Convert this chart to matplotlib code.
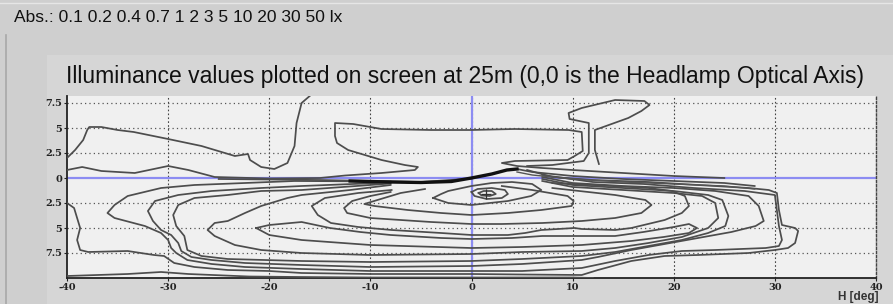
import matplotlib.pyplot as plt

# isolux levels shown in the header
levels_text = "Abs.: 0.1 0.2 0.4 0.7 1 2 3 5 10 20 30 50 lx"
title_text = "Illuminance values plotted on screen at 25m (0,0 is the Headlamp Optical Axis)"

x_ticks = [-40, -30, -20, -10, 0, 10, 20, 30, 40]
x_tick_labels = ["-40", "-30", "-20", "-10", "0", "10", "20", "30", "40"]
y_ticks = [7.5, 5, 2.5, 0, -2.5, -5, -7.5]
y_tick_labels = ["7.5", "5", "2.5", "0", "2.5", "5", "7.5"]

# contour lines, (H deg, V deg)
up_left = [(-40, 2.0), (-39.2, 2.8), (-38.4, 3.8), (-38, 4.8), (-37.8, 5.1), (-36.6, 5.1),
           (-35, 4.8), (-33.4, 4.6), (-30, 3.9), (-26.7, 3.2), (-23.4, 2.2), (-22.1, 2.4),
           (-21.9, 1.8), (-20.8, 1.1), (-19.5, 0.9), (-18.2, 1.5), (-17.5, 3.2), (-17.3, 5.5),
           (-16.8, 7.5), (-16.0, 8.2)]
up_box = [(-40, 0.8), (-38.5, 1.1), (-36.6, 0.7), (-33.3, 0.5), (-30, 1.2), (-28, 0.8),
          (-25.4, 0.1), (-20, -0.05), (-15, 0.0), (-12.5, 0.25), (-8.9, 0.5), (-5.6, 0.8),
          (-5.3, 1.1), (-6.6, 1.3), (-8.9, 1.8), (-12.2, 2.8), (-13.3, 3.5), (-13.5, 4.2),
          (-13.5, 5.5), (-11.7, 5.4), (-8.9, 4.9), (-4, 4.8), (0, 4.8), (4.3, 4.9), (9.6, 4.8),
          (10.9, 4.6), (11, 2.7), (10.2, 2.2), (9.5, 1.8), (4.3, 1.7), (3, 1.5), (4.5, 1.2),
          (7, 1.0), (10, 0.8), (15, 0.5), (20, 0.2), (25, 0.0)]
up_right = [(12.6, 1.4), (12.2, 2.8), (12.2, 4.8), (15.5, 6.0), (16.8, 6.7), (17.6, 7.3),
            (17.1, 7.7), (14.2, 7.8), (10.9, 7.0), (9.6, 6.5), (9.7, 5.9), (11.6, 5.5),
            (11.6, 2.5), (11.1, 1.7), (8, 1.3), (5.5, 1.2)]
cutoff_core = [(-12, -0.3), (-8, -0.4), (-5, -0.45), (-2, -0.35), (0, 0.0), (2, 0.4),
               (3.5, 0.8), (4.5, 0.9)]
cutoff_left = [(-25, -0.1), (-15, -0.2), (-10, -0.3), (-5, -0.4), (0, -0.05)]
cutoff_right = [(4.5, 0.9), (6, 0.6), (10, 0.2), (15, -0.1), (20, -0.3), (25, -0.5), (28, -0.8)]
lo_bottom = [(-40, -9.8), (-34, -9.6), (-30.7, -9.4), (-28, -9.6), (-22, -9.85),
             (-17, -9.9), (-10, -9.95), (0, -9.95), (10, -9.95), (12, -10)]
lo1 = [(-40, -2.5), (-39.3, -3.0), (-38.7, -5.0), (-39, -6.2), (-38.7, -7.2), (-37.9, -7.4),
       (-34, -7.3), (-31.4, -7.7), (-30.4, -7.8), (-29.4, -8.5), (-27.4, -8.9), (-24.1, -9.2),
       (-20, -9.3), (-16.8, -9.5), (-10, -9.6), (0, -9.6), (5, -9.65), (10.9, -9.7),
       (12.5, -9.2), (15.8, -8.3), (19.1, -7.8), (22.4, -7.7), (27.4, -7.5), (30, -7.2),
       (31.3, -7.0), (32, -6.5), (32.3, -5.3), (32, -5.0), (30.7, -4.7), (30.4, -3.2),
       (30.2, -1.5), (29.4, -1.2), (27.4, -1.0), (22.4, -0.7), (17.5, -0.4), (12, -0.2),
       (8, 0.1), (5.5, 0.8)]
lo2 = [(-8, -0.35), (-17.5, -0.3), (-22.4, -0.5), (-27.4, -0.7), (-30.7, -1.0), (-34, -1.8),
       (-35.3, -2.7), (-36, -3.5), (-35.3, -4.0), (-32.3, -4.8), (-30.7, -5.5), (-30, -6.2),
       (-29.7, -7.0), (-29.2, -7.5), (-28.1, -8.2), (-25.7, -8.6), (-22.4, -8.9), (-16.8, -9.1),
       (-10, -9.3), (0, -9.3), (5, -9.3), (10.9, -9.0), (14.2, -8.3), (17.5, -7.7),
       (20.8, -7.3), (24.1, -7.2), (29.1, -7.0), (30.4, -6.8), (30.7, -6.2), (30.4, -4.8),
       (30, -1.7), (27, -1.3), (22, -1.0), (17, -0.6), (12, -0.4), (7, 0.3)]
lo3 = [(-8, -0.45), (-16.8, -0.8), (-20.8, -1.0), (-25.7, -1.3), (-29, -1.7), (-31.3, -2.3),
       (-32, -3.3), (-31.5, -4.3), (-30.7, -5.2), (-29.7, -5.7), (-29, -6.5), (-28.7, -7.3),
       (-27.7, -7.9), (-25.7, -8.2), (-22.4, -8.5), (-16.8, -8.7), (-10, -8.9), (0, -8.8),
       (5, -8.6), (10.9, -8.2), (12.5, -7.9), (15.8, -7.2), (19.1, -6.6), (22.4, -6.0),
       (25.7, -5.4), (28.1, -4.8), (28.9, -4.3), (28.4, -2.8), (27.4, -1.8), (24.1, -1.3),
       (20, -1.0), (15, -0.8), (10, -0.5), (7, 0.1)]
lo4 = [(-8, -0.55), (-16.8, -1.2), (-20.8, -1.3), (-24.1, -1.7), (-27.4, -2.0), (-29, -2.7),
       (-29.5, -3.7), (-29.2, -4.8), (-28.4, -5.8), (-28.1, -7.2), (-26.7, -7.8), (-24.1, -8.1),
       (-16.8, -8.3), (-10, -8.4), (0, -8.3), (5, -8.1), (10.9, -7.8), (14.2, -7.4),
       (17.5, -6.8), (20.8, -6.2), (23.4, -5.5), (25.1, -4.8), (25.4, -3.8), (24.8, -2.2),
       (23.4, -1.7), (20, -1.3), (15, -1.0), (10, -0.7), (7, -0.1)]
lo5 = [(-8, -0.7), (-12, -1.2), (-16.8, -1.7), (-18.2, -2.0), (-20.8, -2.8), (-22.4, -3.5),
       (-24.1, -4.3), (-25.4, -4.5), (-26.1, -5.2), (-25.4, -5.8), (-23.4, -6.7), (-20.8, -7.2),
       (-16.8, -7.5), (-10, -7.7), (0, -7.6), (5, -7.4), (10.9, -7.3), (14.2, -7.0),
       (17.5, -6.5), (20.8, -5.9), (23.4, -5.0), (24.4, -4.0), (24.1, -2.5), (22.8, -1.8),
       (20, -1.5), (15, -1.2), (10, -0.9), (7, -0.3)]
lo6 = [(-21.3, -5.0), (-20, -4.7), (-16.8, -4.4), (-14, -5.0), (-11, -5.4), (-8, -5.7),
       (-3, -6.0), (0, -6.1), (4, -6.0), (7, -5.8), (10.9, -5.8), (14.2, -5.8), (17, -5.4),
       (20, -4.9), (21.5, -4.6), (22.3, -5.0), (21.5, -5.5), (19, -5.9), (15.8, -6.3),
       (10.9, -6.7), (5, -6.9), (0, -7.0), (-10, -6.7), (-16.8, -6.2), (-20, -5.7),
       (-21.3, -5.0)]
lo7 = [(-7.9, -1.2), (-11.2, -1.5), (-14.5, -2.0), (-15.8, -2.8), (-15.2, -3.7), (-13.9, -4.5),
       (-11.2, -4.9), (-7.9, -5.2), (-3, -5.5), (0, -5.7), (3.6, -5.7), (5.3, -5.5),
       (6.9, -5.2), (10.2, -5.0), (10.9, -5.1), (14.2, -5.2), (15.8, -5.0), (19.1, -4.2),
       (20.8, -3.5), (21.5, -2.8), (21.1, -1.8), (19.8, -1.3), (17.5, -1.0), (12, -0.7),
       (8, -0.5)]
lo8 = [(8, -1.0), (14.2, -1.7), (17.2, -2.2), (17.8, -2.7), (16.8, -3.5), (14.2, -4.0),
       (10.9, -4.3), (7, -4.5), (3, -4.6), (0, -4.6), (-4, -4.4), (-7, -4.2), (-10, -4.0),
       (-12.3, -3.5), (-12.6, -3.0), (-11.8, -2.3), (-10, -1.8), (-8, -1.4)]
lo9 = [(-4.6, -1.1), (-7, -1.5), (-9.3, -2.2), (-10.6, -2.6), (-9.6, -2.8), (-6.3, -3.2),
       (-3, -3.5), (0, -3.7), (3.6, -3.5), (6.9, -3.2), (9.9, -2.8), (10.1, -2.3), (9.5, -1.8),
       (6, -1.2), (3, -0.8)]
lo10 = [(-3.8, -2.0), (-3, -1.6), (-2.3, -1.3), (0, -0.8), (2, -0.5), (4, -0.4), (6, -0.6),
        (6.9, -1.2), (5.9, -1.8), (3.6, -2.3), (0, -2.7), (-2.3, -2.5), (-3.8, -2.0)]
lo11 = [(0, -1.4), (0.6, -1.1), (2, -1.0), (3.3, -1.2), (3.6, -1.6), (3.0, -2.0), (1.5, -2.1),
        (0.3, -1.8), (0, -1.4)]
lo12 = [(0.7, -1.5), (1.2, -1.3), (2.0, -1.3), (2.4, -1.6), (1.8, -1.8), (1.0, -1.75),
        (0.7, -1.5)]
hot_spot = (1.4, -1.6)

contours = [up_left, up_box, up_right, lo_bottom, lo1, lo2, lo3, lo4, lo5, lo6, lo7, lo8,
            lo9, lo10, lo11, lo12, cutoff_left, cutoff_right]

fig = plt.figure(figsize=(8.93, 3.04), dpi=100, facecolor="#cfcfcf")

# lighter inner panel behind the title and plot
panel = plt.Rectangle((47 / 893, 0), 1, (304 - 55) / 304, transform=fig.transFigure,
                      facecolor="#d6d6d6", edgecolor="none", zorder=-5)
fig.add_artist(panel)
fig.add_artist(plt.Line2D([6 / 893, 6 / 893], [0.0, (304 - 35) / 304], color="#a8a8a8", lw=1.2))
fig.add_artist(plt.Line2D([0, 1], [301 / 304, 301 / 304], color="#e6e6e6", lw=1.0))

fig.text(14 / 893, 1 - 18 / 304, levels_text, fontsize=12.5, family="Liberation Sans",
         va="center", ha="left", color="#111111")
fig.text(66 / 893, 1 - 77 / 304, title_text, fontsize=16.5, family="Liberation Sans",
         va="center", ha="left", color="#111111")

ax = fig.add_axes([67 / 893, 26 / 304, (876 - 67) / 893, (278 - 96) / 304])
ax.set_zorder(5)
ax.set_facecolor("#f0f0f0")
ax.set_xlim(-40, 40)
ax.set_ylim(-10, 8.2)

for xv in x_ticks[1:]:
    ax.axvline(xv, color="#444444", lw=0.8, ls=(0, (1.5, 2)), zorder=1)
for yv in y_ticks:
    if yv != 0:
        ax.axhline(yv, color="#555555", lw=0.9, ls=(0, (1, 2.5)), zorder=1)

ax.axvline(0, color="#8c8cf2", lw=1.6, zorder=2)
ax.axhline(0, color="#8c8cf2", lw=1.6, zorder=2)

for c in contours:
    hs, vs = zip(*c)
    ax.plot(hs, vs, color="#4d4d4d", lw=1.25, zorder=3)

# dense cut-off line near the optical axis
core_h, core_v = zip(*cutoff_core)
ax.plot(core_h, core_v, color="#111111", lw=2.4, zorder=4)
right_h, right_v = zip(*cutoff_right)
ax.plot(right_h, [v - 0.3 for v in right_v], color="#555555", lw=1.0, zorder=3)
ax.plot(hot_spot[0], hot_spot[1], marker="+", color="#333333", ms=7, mew=0.9, zorder=5)

ax.set_xticks(x_ticks)
ax.set_xticklabels(x_tick_labels)
ax.set_yticks(y_ticks)
ax.set_yticklabels(y_tick_labels)
ax.tick_params(length=2, width=0.8, labelsize=7, pad=1.5, colors="#222222")
for lab in ax.get_xticklabels() + ax.get_yticklabels():
    lab.set_fontweight("bold")
    lab.set_family("DejaVu Serif")

for side in ["left", "bottom"]:
    ax.spines[side].set_color("#222222")
    ax.spines[side].set_linewidth(1.3)
ax.spines["top"].set_visible(False)
ax.spines["right"].set_color("#444444")
ax.spines["right"].set_linestyle((0, (1.5, 1.5)))
ax.spines["right"].set_linewidth(1.0)

fig.text(878 / 893, 1 - 300 / 304, "H [deg]", fontsize=8.5, fontweight="bold",
         family="Liberation Sans", ha="right", va="baseline", color="#333333")

fig.savefig("out.png", dpi=100, facecolor=fig.get_facecolor())
